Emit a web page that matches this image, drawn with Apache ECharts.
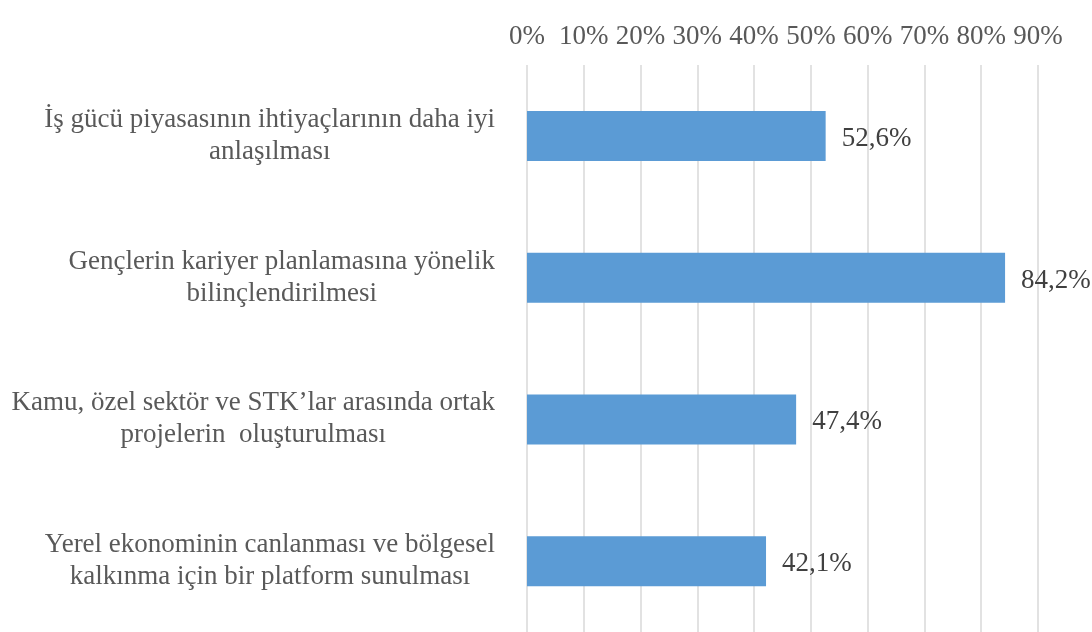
<!DOCTYPE html>
<html>
<head>
<meta charset="utf-8">
<script src="https://cdn.jsdelivr.net/npm/echarts@6/dist/echarts.min.js"></script>
<style>
html,body{margin:0;padding:0;background:#fff;}
#chart{width:1092px;height:632px;}
</style>
</head>
<body>
<div id="chart"></div>
<script>
// kategoriler (yukaridan asagiya)
var categories = [
    'İş gücü piyasasının ihtiyaçlarının daha iyi\nanlaşılması',
    'Gençlerin kariyer planlamasına yönelik\nbilinçlendirilmesi',
    'Kamu, özel sektör ve STK’lar arasında ortak\nprojelerin  oluşturulması',
    'Yerel ekonominin canlanması ve bölgesel\nkalkınma için bir platform sunulması'
]
var values = [52.6, 84.2, 47.4, 42.1]
var tickLabels = ['0%', '10%', '20%', '30%', '40%', '50%', '60%', '70%', '80%', '90%']

var font = '"Liberation Serif", "Times New Roman", serif'
var myChart = echarts.init(document.getElementById('chart'), null, {renderer: 'canvas'})

option = {
    animation: false,
    grid: {
        left: 527,
        right: 54,
        top: 65,
        bottom: -1,
        containLabel: false
    },
    xAxis: {
        type: 'value',
        position: 'top',
        min: 0,
        max: 90,
        interval: 10,
        axisLine: {show: false},
        axisTick: {show: false},
        splitLine: {show: true, lineStyle: {color: '#d9d9d9', width: 1.5}},
        axisLabel: {
            margin: 15,
            color: '#595959',
            fontFamily: font,
            fontSize: 27,
            formatter: function (v) {
                return tickLabels[Math.round(v / 10)]
            }
        }
    },
    yAxis: {
        type: 'category',
        inverse: true,
        data: categories,
        axisLine: {show: false},
        axisTick: {show: false},
        axisLabel: {
            margin: 32,
            align: 'right',
            formatter: function (v) {
                return v.split('\n').map(function (s) { return '{a|' + s + '}' }).join('\n')
            },
            rich: {
                a: {
                    align: 'center',
                    color: '#595959',
                    fontFamily: font,
                    fontSize: 27,
                    lineHeight: 32
                }
            }
        }
    },
    series: [{
        type: 'bar',
        data: values,
        barWidth: 50,
        itemStyle: {color: '#5b9bd5'},
        label: {
            show: true,
            position: 'right',
            distance: 16,
            offset: [0, 3],
            color: '#404040',
            fontFamily: font,
            fontSize: 27,
            formatter: function (p) {
                return p.value.toFixed(1).replace('.', ',') + '%'
            }
        }
    }]
}
myChart.setOption(option)
</script>
</body>
</html>
